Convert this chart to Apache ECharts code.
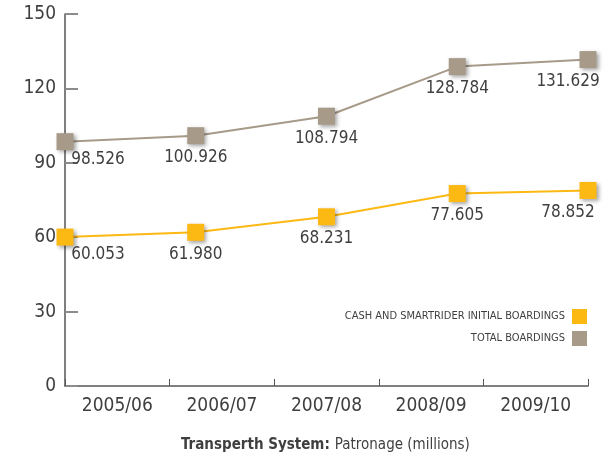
<!DOCTYPE html>
<html>
<head>
<meta charset="utf-8">
<script src="https://cdn.jsdelivr.net/npm/echarts@6/dist/echarts.min.js"></script>
<style>
  html, body { margin: 0; padding: 0; background: #ffffff; }
  #chart { width: 612px; height: 456px; }
</style>
</head>
<body>
<div id="chart"></div>
<script>
// Transperth patronage, millions of boardings per financial year
const years = ['2005/06', '2006/07', '2007/08', '2008/09', '2009/10'];
const cashSmartRider = [60.053, 61.980, 68.231, 77.605, 78.852];
const totalBoardings = [98.526, 100.926, 108.794, 128.784, 131.629];
const yTicks = [0, 30, 60, 90, 120, 150];

const seriesNames = ['CASH AND SMARTRIDER INITIAL BOARDINGS', 'TOTAL BOARDINGS'];
const GOLD = '#fdb913';
const TAUPE = '#a79a89';
const TEXT = '#3f3f3f';
const FONT = '"DejaVu Sans Condensed", "Liberation Sans Narrow", sans-serif';

function valueLabel(idx, last) {
  // first and last point labels sit beside the marker so they stay inside the plot
  if (idx === 0) return { offset: [33, -4] };
  if (idx === last) return { offset: [-20, 0] };
  return {};
}

function buildData(values) {
  return values.map((v, i) => ({
    value: v,
    label: valueLabel(i, values.length - 1)
  }));
}

function lineSeries(name, values, color) {
  return {
    name: name,
    type: 'line',
    xAxisIndex: 1,
    data: buildData(values),
    symbol: 'rect',
    symbolSize: 17,
    lineStyle: { color: color, width: 2 },
    itemStyle: {
      color: color,
      shadowColor: 'rgba(0,0,0,0.35)',
      shadowBlur: 4,
      shadowOffsetX: 2,
      shadowOffsetY: 2
    },
    label: {
      show: true,
      position: 'bottom',
      distance: 5,
      color: TEXT,
      fontFamily: FONT,
      fontSize: 17,
      formatter: p => p.value.toFixed(3)
    },
    emphasis: { disabled: true },
    animation: false
  };
}

const chart = echarts.init(document.getElementById('chart'), null, { renderer: 'canvas' });

chart.setOption({
  backgroundColor: '#ffffff',
  animation: false,
  grid: { left: 65, right: 24, top: 14, bottom: 70, containLabel: false },
  title: {
    text: '{b|Transperth System:} {n|Patronage (millions)}',
    left: 181,
    top: 436,
    padding: 0,
    textStyle: {
      fontWeight: 'normal',
      rich: {
        b: { fontFamily: FONT, fontSize: 15, fontWeight: 'bold', color: TEXT },
        n: { fontFamily: FONT, fontSize: 15, fontWeight: 'normal', color: TEXT }
      }
    }
  },
  legend: {
    orient: 'vertical',
    right: 20,
    top: 304,
    align: 'right',
    itemWidth: 15,
    itemHeight: 15,
    itemGap: 7,
    selectedMode: false,
    textStyle: { fontFamily: FONT, fontSize: 11, color: TEXT, padding: [0, 2, 0, 0] },
    data: [
      { name: seriesNames[0], icon: 'rect', itemStyle: { color: GOLD, shadowBlur: 0, shadowOffsetX: 0, shadowOffsetY: 0 } },
      { name: seriesNames[1], icon: 'rect', itemStyle: { color: TAUPE, shadowBlur: 0, shadowOffsetX: 0, shadowOffsetY: 0 } }
    ]
  },
  xAxis: [
    {
      // visible category axis: labels centred between the tick marks
      type: 'category',
      data: years,
      boundaryGap: true,
      axisLine: { lineStyle: { color: '#555555', width: 1.5 } },
      axisTick: { show: true, inside: true, length: 7, lineStyle: { color: '#555555', width: 1 } },
      axisLabel: { color: TEXT, fontFamily: FONT, fontSize: 19, margin: 11 },
      splitLine: { show: false }
    },
    {
      // hidden axis carrying the data points on the tick edges
      type: 'category',
      data: years,
      boundaryGap: false,
      show: false
    }
  ],
  yAxis: {
    type: 'value',
    min: yTicks[0],
    max: yTicks[yTicks.length - 1],
    interval: yTicks[1] - yTicks[0],
    axisLine: { show: true, lineStyle: { color: '#555555', width: 1.5 } },
    axisTick: { show: true, inside: true, length: 13, lineStyle: { color: '#8c8c8c', width: 2 } },
    axisLabel: { color: TEXT, fontFamily: FONT, fontSize: 19, margin: 9 },
    splitLine: { show: false }
  },
  series: [
    lineSeries(seriesNames[1], totalBoardings, TAUPE),
    lineSeries(seriesNames[0], cashSmartRider, GOLD)
  ]
});
</script>
</body>
</html>
